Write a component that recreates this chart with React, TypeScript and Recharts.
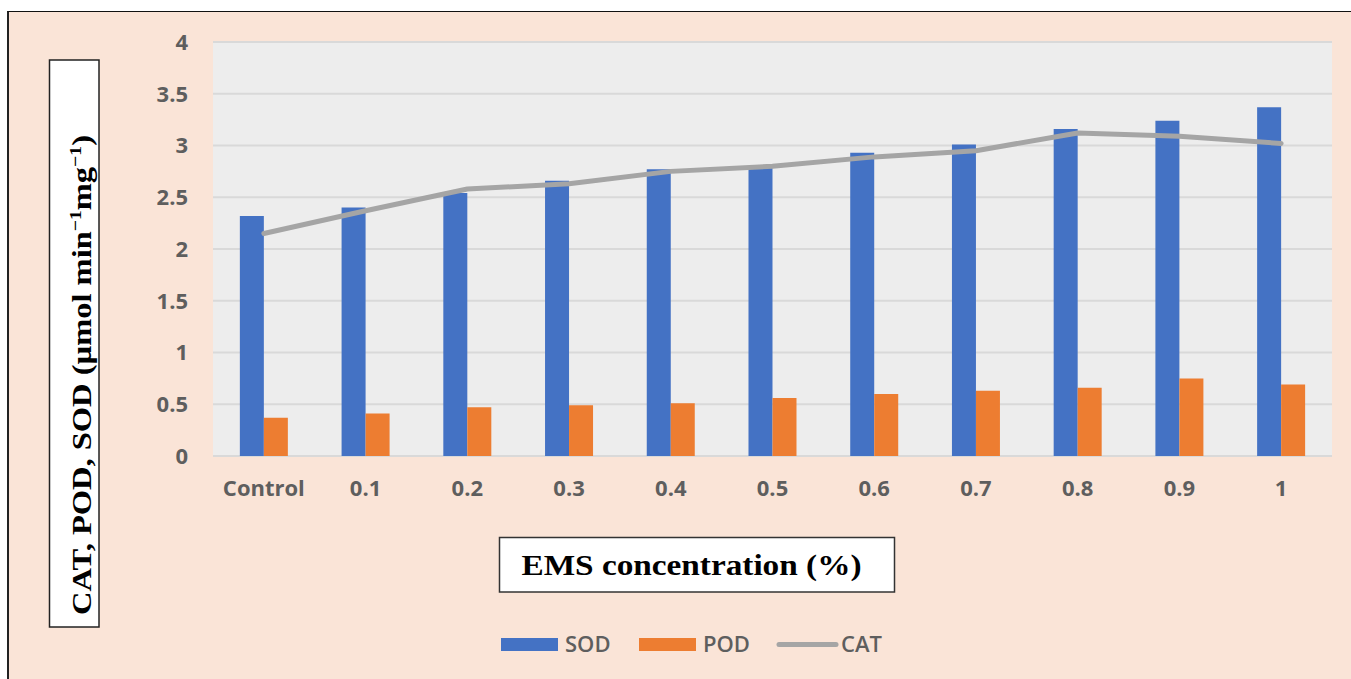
import React from 'react';
import { ComposedChart, Bar, Line, XAxis, YAxis, CartesianGrid, Legend } from 'recharts';

const categories = ['Control', '0.1', '0.2', '0.3', '0.4', '0.5', '0.6', '0.7', '0.8', '0.9', '1'];
const sodValues = [2.32, 2.4, 2.54, 2.66, 2.77, 2.8, 2.93, 3.01, 3.16, 3.24, 3.37];
const podValues = [0.37, 0.41, 0.47, 0.49, 0.51, 0.56, 0.6, 0.63, 0.66, 0.75, 0.69];
const catValues = [2.15, 2.37, 2.58, 2.63, 2.75, 2.8, 2.89, 2.95, 3.12, 3.09, 3.02];
const yTicks = [0, 0.5, 1, 1.5, 2, 2.5, 3, 3.5, 4];
const seriesNames = ['SOD', 'POD', 'CAT'];
const seriesColors = ['#4472C4', '#ED7D31', '#A5A5A5'];
const yTitle = 'CAT, POD, SOD (µmol min';
const xTitle = 'EMS concentration (%)';

const data = categories.map((c, i) => ({
  name: c,
  SOD: sodValues[i],
  POD: podValues[i],
  CAT: catValues[i],
}));

const W = 1351;
const H = 679;
const tickFont = { fontFamily: '"Open Sans", sans-serif', fontSize: 22, fontWeight: 700, fill: '#5E5E5E' };

const renderLegend = () => (
  <svg width={W} height={H} style={{ position: 'absolute', left: 0, top: 0, overflow: 'visible' }}>
    {seriesNames.map((n, i) => {
      const x0 = 501 + i * 138;
      return (
        <g key={n}>
          {i < 2 ? (
            <rect x={x0} y={638} width={57} height={13} fill={seriesColors[i]} />
          ) : (
            <line x1={x0 + 2} y1={644.5} x2={x0 + 59} y2={644.5} stroke={seriesColors[i]} strokeWidth={5} strokeLinecap="round" />
          )}
          <text x={x0 + 64} y={652} style={{ ...tickFont, fontSize: 22, fontWeight: 600 }} fill="#595959">
            {n}
          </text>
        </g>
      );
    })}
  </svg>
);

export default function App() {
  return (
    <div style={{ position: 'absolute', left: 0, top: 0, width: W, height: H, background: '#fff', overflow: 'hidden' }}>
      <div
        style={{
          position: 'absolute',
          left: 7,
          top: 11,
          width: W - 7,
          height: H - 11,
          background: '#FAE4D7',
          borderTop: '1.5px solid #111',
          borderLeft: '2px solid #222',
          boxSizing: 'border-box',
        }}
      />
      <div style={{ position: 'absolute', left: 0, top: 0 }}>
        <ComposedChart
          width={W}
          height={H}
          data={data}
          margin={{ top: 42, right: 19, bottom: 193, left: 0 }}
          barCategoryGap="26.4%"
          barGap={0}
        >
          <CartesianGrid vertical={false} stroke="#D9D9D9" strokeWidth={2} fill="#EDEDED" />
          <XAxis
            dataKey="name"
            height={30}
            axisLine={false}
            tickLine={false}
            tickSize={0}
            tickMargin={24}
            interval={0}
            tick={tickFont}
          />
          <YAxis
            width={213}
            domain={[0, 4]}
            ticks={yTicks}
            interval={0}
            axisLine={false}
            tickLine={false}
            tickSize={0}
            tickMargin={25}
            tick={tickFont}
          />
          <Legend
            layout="horizontal"
            verticalAlign="middle"
            align="center"
            content={renderLegend}
            wrapperStyle={{ left: 0, top: 0, width: W, height: H, pointerEvents: 'none' }}
          />
          <Bar dataKey="SOD" fill={seriesColors[0]} isAnimationActive={false} />
          <Bar dataKey="POD" fill={seriesColors[1]} isAnimationActive={false} />
          <Line
            type="linear"
            dataKey="CAT"
            stroke={seriesColors[2]}
            strokeWidth={5}
            dot={false}
            activeDot={false}
            strokeLinecap="round"
            strokeLinejoin="round"
            isAnimationActive={false}
          />
        </ComposedChart>
      </div>
      <svg width={W} height={H} style={{ position: 'absolute', left: 0, top: 0, pointerEvents: 'none' }}>
        <rect x={49.5} y={60} width={49.5} height={567} fill="#fff" stroke="#222" strokeWidth={1.5} />
        <text
          transform="translate(91,375) rotate(-90)"
          textAnchor="middle"
          textLength={480}
          lengthAdjust="spacingAndGlyphs"
          style={{ fontFamily: '"Liberation Serif", "Times New Roman", serif', fontSize: 28, fontWeight: 700 }}
          fill="#000"
        >
          {yTitle}
          <tspan dy={-10} fontSize={17}>−1</tspan>
          <tspan dy={10}>mg</tspan>
          <tspan dy={-10} fontSize={17}>−1</tspan>
          <tspan dy={10}>)</tspan>
        </text>
        <rect x={499.5} y={537.5} width={395} height={54.5} fill="#fff" stroke="#333" strokeWidth={1.5} />
        <text
          x={691.5}
          y={574.5}
          textAnchor="middle"
          textLength={340}
          lengthAdjust="spacingAndGlyphs"
          style={{ fontFamily: '"Liberation Serif", "Times New Roman", serif', fontSize: 29, fontWeight: 700 }}
          fill="#000"
        >
          {xTitle}
        </text>
      </svg>
    </div>
  );
}
